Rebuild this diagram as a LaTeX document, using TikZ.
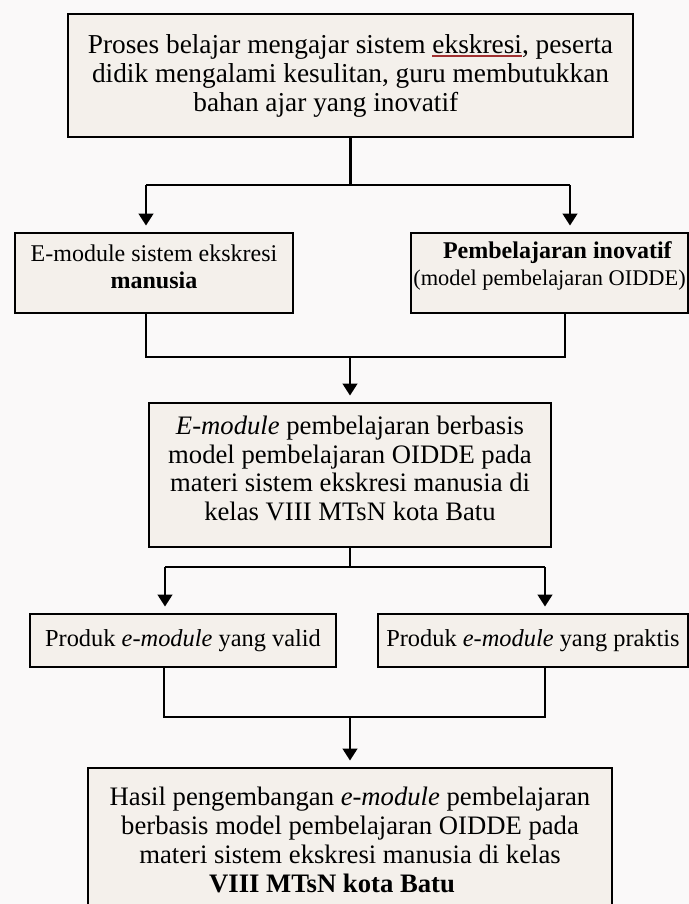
\documentclass[tikz,border=0pt]{standalone}
\usepackage{fontspec}
\setmainfont{Liberation Serif}
\usetikzlibrary{arrows.meta}
\definecolor{bgcol}{HTML}{FAF9F9}
\definecolor{boxfill}{HTML}{F4F0EB}
\definecolor{ulred}{HTML}{A03030}
\newcommand\pxu[1]{#1*0.75pt}
\newcommand\fs[2]{\fontsize{#1}{#2}\selectfont}
\newcommand\dep[1]{\rule[-#1]{0pt}{0pt}}
\newcommand\redul[1]{\setbox0\hbox{#1}\rlap{\color{ulred}\rule[-2.6pt]{\wd0}{1pt}}\box0}
\tikzset{
  box/.style={draw, line width=2.2pt, fill=boxfill, inner sep=0pt, align=center, text=black},
  conn/.style={line width=1.8pt, line join=miter},
  arr/.style={conn, -{Triangle[length=9pt,width=11pt]}, shorten >=4.5pt},
}
\begin{document}
\begin{tikzpicture}[x=0.75pt, y=-0.75pt]
\fill[bgcol] (0,0) rectangle (689,904);
\useasboundingbox (0,0) rectangle (689,904);
\clip (0,0) rectangle (689,904);

\node[box, minimum width=\pxu{565}, minimum height=\pxu{123}, font=\fs{20.5}{21.75}] (top) at (350.5,75.5)
  {Proses belajar mengajar sistem \redul{ekskresi}, peserta\\
   didik mengalami kesulitan, guru membutukkan\\
   bahan ajar yang inovatif\hspace*{37pt}};

\node[box, minimum width=\pxu{278}, minimum height=\pxu{80}, font=\fs{18}{20.25}] (left) at (154,273)
  {E-module sistem ekskresi\\ \textbf{manusia}\dep{10pt}};

\node[box, minimum width=\pxu{277}, minimum height=\pxu{80}, font=\fs{18}{20.25}] (right) at (549.5,273)
  {\hspace*{12pt}\textbf{Pembelajaran inovatif}\\ {\fs{16.8}{20.25}(model pembelajaran OIDDE)}\dep{14pt}};

\node[box, minimum width=\pxu{402}, minimum height=\pxu{144}, font=\fs{20}{21.4}] (mid) at (350,475)
  {\textit{E-module} pembelajaran berbasis\\
   model pembelajaran OIDDE pada\\
   materi sistem ekskresi manusia di\\
   kelas VIII MTsN kota Batu\dep{10pt}};

\node[box, minimum width=\pxu{306}, minimum height=\pxu{53}, font=\fs{18.3}{20}] (pv) at (183,640.5)
  {Produk \textit{e-module} yang valid};

\node[box, minimum width=\pxu{310}, minimum height=\pxu{53}, font=\fs{18.3}{20}] (pp) at (533,640.5)
  {Produk \textit{e-module} yang praktis};

\node[box, minimum width=\pxu{524}, minimum height=\pxu{154}, font=\fs{20}{21.75}] (bot) at (350,845)
  {Hasil pengembangan \textit{e-module} pembelajaran\\
   berbasis model pembelajaran OIDDE pada\\
   materi sistem ekskresi manusia di kelas\\
   \textbf{VIII MTsN kota Batu}\hspace*{27pt}\dep{7.5pt}};

% split 1
\coordinate (s1L) at (146,185);
\coordinate (s1R) at (570,185);
\draw[conn] (top.south) -- (top.south |- s1L);
\draw[conn] (s1L) -- (s1R);
\draw[arr] (s1L) -- (s1L |- left.north);
\draw[arr] (s1R) -- (s1R |- right.north);

% merge 1
\coordinate (m1L) at (146,357);
\coordinate (m1R) at (565,357);
\draw[conn] (m1L |- left.south) -- (m1L) -- (m1R) -- (m1R |- right.south);
\draw[arr] (mid.north |- m1L) -- (mid.north);

% split 2
\coordinate (s2L) at (165,567);
\coordinate (s2R) at (545,567);
\draw[conn] (mid.south) -- (mid.south |- s2L);
\draw[conn] (s2L) -- (s2R);
\draw[arr] (s2L) -- (s2L |- pv.north);
\draw[arr] (s2R) -- (s2R |- pp.north);

% merge 2
\coordinate (m2L) at (164,717);
\coordinate (m2R) at (545,717);
\draw[conn] (m2L |- pv.south) -- (m2L) -- (m2R) -- (m2R |- pp.south);
\draw[arr] (bot.north |- m2L) -- (bot.north);
\end{tikzpicture}
\end{document}
